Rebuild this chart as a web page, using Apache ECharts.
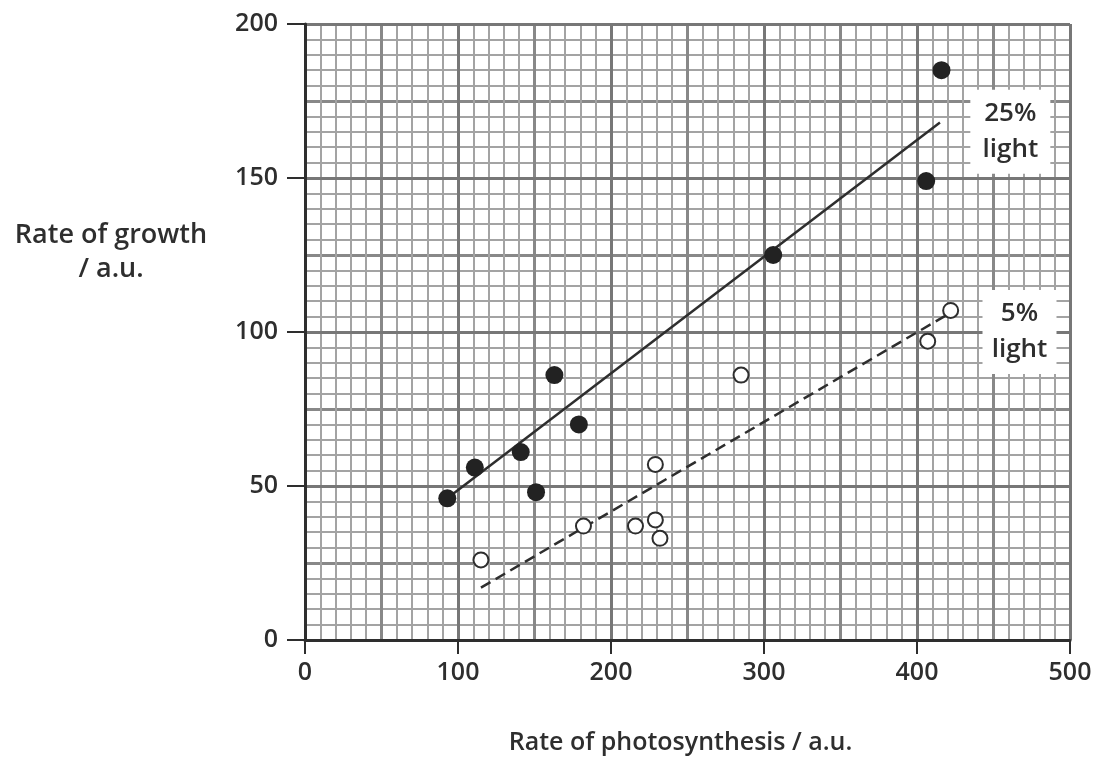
<!DOCTYPE html>
<html>
<head>
<meta charset="utf-8">
<script src="https://cdn.jsdelivr.net/npm/echarts@6/dist/echarts.min.js"></script>
<style>
  html, body { margin: 0; padding: 0; background: #fff; }
  #chart { width: 1100px; height: 758px; }
</style>
</head>
<body>
<div id="chart"></div>
<script>
// 数据：25% 光照（实心点）
const light25Points = [
  [93, 46], [111, 56], [141, 61], [151, 48], [163, 86],
  [179, 70], [306, 125], [406, 149], [416, 185]
]
// 5% 光照（空心点）
const light5Points = [
  [115, 26], [182, 37], [216, 37], [229, 39], [232, 33],
  [229, 57], [285, 86], [407, 97], [422, 107]
]
// 最佳拟合线端点
const light25Line = [[93, 46], [415, 168]]
const light5Line = [[115, 17], [421, 106]]

const xTicks = [0, 100, 200, 300, 400, 500]
const yTicks = [0, 50, 100, 150, 200]

const ink = '#2e2e2e'
const font = 'Open Sans'
const weight = 600

const chart = echarts.init(document.getElementById('chart'))

const option = {
  backgroundColor: '#fff',
  animation: false,
  grid: { left: 305, right: 30, top: 24, bottom: 118, outerBoundsMode: 'none' },
  graphic: [{
    type: 'text',
    x: 111,
    y: 252,
    style: {
      text: 'Rate of growth\n/ a.u.',
      align: 'center',
      verticalAlign: 'middle',
      font: '600 27px "Open Sans"',
      lineHeight: 34,
      fill: ink
    }
  }],
  xAxis: [
    {
      // 主轴：刻度、标签、粗网格线（每100）
      type: 'value', min: 0, max: 500, interval: 100, z: 3,
      name: 'Rate of photosynthesis / a.u.',
      nameLocation: 'middle', nameGap: 90,
      nameTextStyle: { fontFamily: font, fontWeight: weight, fontSize: 25, color: ink, padding: [0, 14, 0, 0] },
      axisLine: { show: true, onZero: false, lineStyle: { color: ink, width: 3 } },
      axisTick: { show: true, length: 14, lineStyle: { color: ink, width: 2 } },
      axisLabel: {
        fontFamily: font, fontWeight: weight, fontSize: 25, color: ink, margin: 20,
        formatter: v => xTicks.includes(v) ? String(v) : ''
      },
      splitLine: { show: true, lineStyle: { color: '#777', width: 3 } }
    },
    {
      // 中间线（每50）与细网格（每10）
      type: 'value', min: 0, max: 500, interval: 50, z: 1,
      position: 'bottom', show: true,
      axisLine: { show: false }, axisTick: { show: false }, axisLabel: { show: false },
      splitLine: { show: true, lineStyle: { color: '#888', width: 3 } },
      minorTick: { show: false, splitNumber: 5 },
      minorSplitLine: { show: true, lineStyle: { color: '#a3a3a3', width: 2 } }
    }
  ],
  yAxis: [
    {
      type: 'value', min: 0, max: 200, interval: 50, z: 3,
      axisLine: { show: true, onZero: false, lineStyle: { color: ink, width: 3 } },
      axisTick: { show: true, length: 18, lineStyle: { color: ink, width: 2 } },
      axisLabel: {
        fontFamily: font, fontWeight: weight, fontSize: 25, color: ink, margin: 27,
        formatter: v => yTicks.includes(v) ? String(v) : ''
      },
      splitLine: { show: true, lineStyle: { color: '#777', width: 3 } }
    },
    {
      type: 'value', min: 0, max: 200, interval: 25, z: 1,
      position: 'left', show: true,
      axisLine: { show: false }, axisTick: { show: false }, axisLabel: { show: false },
      splitLine: { show: true, lineStyle: { color: '#888', width: 3 } },
      minorTick: { show: false, splitNumber: 5 },
      minorSplitLine: { show: true, lineStyle: { color: '#a3a3a3', width: 2 } }
    }
  ],
  series: [
    {
      name: '25% line', type: 'line', data: light25Line,
      symbol: 'none', z: 5,
      lineStyle: { color: ink, width: 2.5 },
      markPoint: {
        symbol: 'rect', symbolSize: [80, 84],
        itemStyle: { color: '#fff' },
        data: [{ coord: [461, 165] }],
        label: {
          show: true, formatter: '25%\nlight',
          fontFamily: font, fontWeight: weight, fontSize: 26, lineHeight: 36, color: ink
        }
      }
    },
    {
      name: '5% line', type: 'line', data: light5Line,
      symbol: 'none', z: 5,
      lineStyle: { color: ink, width: 2.5, type: [11, 6] },
      markPoint: {
        symbol: 'rect', symbolSize: [74, 84],
        itemStyle: { color: '#fff' },
        data: [{ coord: [467, 100] }],
        label: {
          show: true, formatter: '5%\nlight',
          fontFamily: font, fontWeight: weight, fontSize: 26, lineHeight: 36, color: ink
        }
      }
    },
    {
      name: '25% light', type: 'scatter', data: light25Points, z: 6,
      symbolSize: 18,
      itemStyle: { color: '#222', opacity: 1 }
    },
    {
      name: '5% light', type: 'scatter', data: light5Points, z: 6,
      symbolSize: 15,
      itemStyle: { color: '#fff', borderColor: ink, borderWidth: 2, opacity: 1 }
    }
  ]
}

chart.setOption(option)
</script>
</body>
</html>
